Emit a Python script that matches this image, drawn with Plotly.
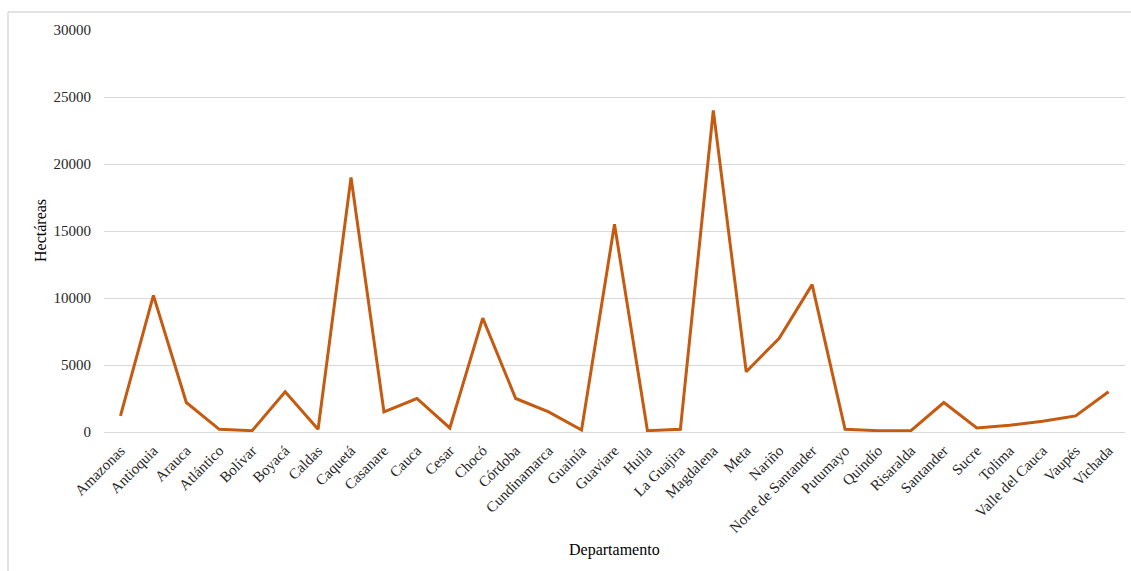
import plotly.graph_objects as go

departamentos = [
    "Amazonas", "Antioquia", "Arauca", "Atlántico", "Bolívar", "Boyacá", "Caldas",
    "Caquetá", "Casanare", "Cauca", "Cesar", "Chocó", "Córdoba", "Cundinamarca",
    "Guainía", "Guaviare", "Huila", "La Guajira", "Magdalena", "Meta", "Nariño",
    "Norte de Santander", "Putumayo", "Quindío", "Risaralda", "Santander", "Sucre",
    "Tolima", "Valle del Cauca", "Vaupés", "Vichada",
]
hectareas = [
    1200, 10200, 2200, 200, 100, 3000, 200,
    19000, 1500, 2500, 300, 8500, 2500, 1500,
    150, 15500, 100, 200, 24000, 4500, 7000,
    11000, 200, 100, 100, 2200, 300,
    500, 800, 1200, 3000,
]
y_ticks = [0, 5000, 10000, 15000, 20000, 25000, 30000]

FONT = "Liberation Serif"
W, H = 1131, 571
L, R, T, B = 104, 6, 30, 139
pw, ph = W - L - R, H - T - B

fig = go.Figure(
    go.Scatter(
        x=departamentos,
        y=hectareas,
        mode="lines",
        line=dict(color="#C55A11", width=3),
        hoverinfo="x+y",
    )
)

fig.update_layout(
    width=W,
    height=H,
    margin=dict(l=L, r=R, t=T, b=B),
    paper_bgcolor="white",
    plot_bgcolor="white",
    showlegend=False,
    font=dict(family=FONT, size=14, color="#262626"),
    xaxis=dict(
        type="category",
        tickangle=-45,
        showgrid=False,
        showline=False,
        ticks="",
        ticklabelstandoff=6,
        tickfont=dict(family=FONT, size=15, color="#262626"),
        range=[-0.5, len(departamentos) - 0.5],
    ),
    yaxis=dict(
        range=[0, 30000],
        tickvals=y_ticks,
        ticktext=[str(v) for v in y_ticks],
        showgrid=True,
        gridcolor="#d9d9d9",
        gridwidth=1,
        zeroline=True,
        zerolinecolor="#d9d9d9",
        zerolinewidth=1,
        showline=False,
        ticks="",
        ticklabelstandoff=12,
        tickfont=dict(family=FONT, size=15, color="#262626"),
    ),
    annotations=[
        dict(
            text="Hectáreas",
            xref="paper", yref="paper",
            x=(40 - L) / pw, y=0.5,
            xanchor="center", yanchor="middle",
            textangle=-90,
            showarrow=False,
            font=dict(family=FONT, size=16, color="#000000"),
        ),
        dict(
            text="Departamento",
            xref="paper", yref="paper",
            x=0.5, y=-(550 - (T + ph)) / ph,
            xanchor="center", yanchor="middle",
            showarrow=False,
            font=dict(family=FONT, size=16, color="#000000"),
        ),
    ],
    shapes=[
        # outer frame lines (top and left)
        dict(
            type="line", xref="paper", yref="paper",
            x0=(8 - L) / pw, x1=(W + 5 - L) / pw,
            y0=1 + (T - 12) / ph, y1=1 + (T - 12) / ph,
            line=dict(color="#d9d9d9", width=1.5),
        ),
        dict(
            type="line", xref="paper", yref="paper",
            x0=(8 - L) / pw, x1=(8 - L) / pw,
            y0=1 + (T - 12) / ph, y1=-(B + 5) / ph,
            line=dict(color="#d9d9d9", width=1.5),
        ),
    ],
)

fig.write_html("out.html")
